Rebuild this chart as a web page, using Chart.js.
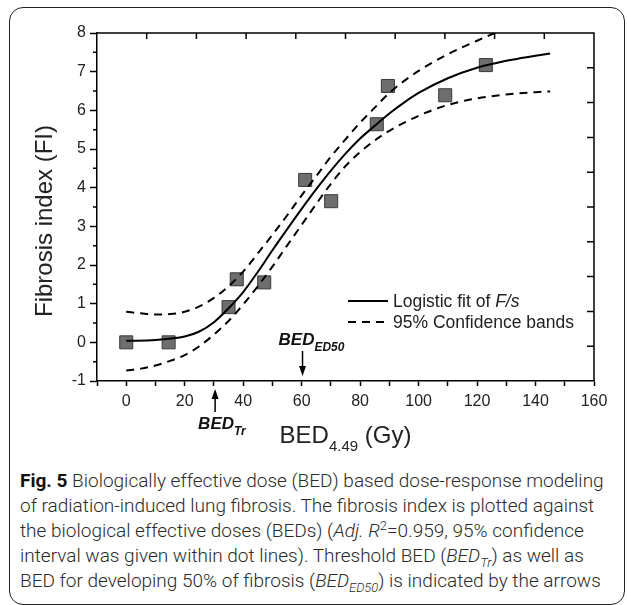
<!DOCTYPE html>
<html>
<head>
<meta charset="utf-8">
<title>BED dose-response</title>
<script src="https://cdn.jsdelivr.net/npm/chart.js@4.4.1/dist/chart.umd.min.js"></script>
<style>
  html, body { margin: 0; padding: 0; background: #fff; overflow: hidden; }
  #wrap { position: relative; width: 627px; height: 605px; }
  #frame { position: absolute; left: 9px; top: 7px; width: 614px; height: 596px; border: 1.5px solid #222; border-radius: 14px; }
  #chart { position: absolute; left: 0; top: 0; width: 627px; height: 460px; }
  #caption { position: absolute; left: 20px; top: 468px; font-family: Roboto, "Liberation Sans", sans-serif; font-weight: 300; font-size: 19px; line-height: 25px; color: #2a2a2a; white-space: nowrap; transform-origin: 0 0; }
  #caption .ln { display: inline-block; }
  #caption b { font-weight: 700; color: #111; }
  #caption sub, #caption sup { font-size: 68%; line-height: 0; }
</style>
</head>
<body>
<div id="wrap">
  <div id="frame"></div>
  <canvas id="chart" width="627" height="460"></canvas>
  <div id="caption">
    <span class="ln"><b>Fig. 5</b> Biologically effective dose (BED) based dose-response modeling</span><br>
    <span class="ln">of radiation-induced lung fibrosis. The fibrosis index is plotted against</span><br>
    <span class="ln">the biological effective doses (BEDs) (<i>Adj. R</i><sup>2</sup>=0.959, 95% confidence</span><br>
    <span class="ln">interval was given within dot lines). Threshold BED (<i>BED<sub>Tr</sub></i>) as well as</span><br>
    <span class="ln">BED for developing 50% of fibrosis (<i>BED<sub>ED50</sub></i>) is indicated by the arrows</span>
  </div>
</div>
<script>
// measured points
const bedGy = [0, 14.5, 35.0, 37.8, 47.2, 61.2, 70.1, 85.7, 89.5, 109.1, 123];
const fibrosisIndex = [0, 0, 0.91, 1.63, 1.55, 4.20, 3.65, 5.64, 6.63, 6.39, 7.17];

// logistic fit
const fitBed = [0, 10, 20, 25, 30, 35, 40, 45, 50, 55, 60, 65, 70, 75, 80, 85, 90, 95, 100, 110, 120, 130, 140, 145];
const fitFI = [0.04, 0.06, 0.15, 0.28, 0.52, 0.88, 1.30, 1.82, 2.38, 2.92, 3.45, 3.96, 4.44, 4.88, 5.27, 5.60, 5.92, 6.20, 6.45, 6.83, 7.10, 7.28, 7.41, 7.47];

// 95% confidence bands
const upperBed = [0, 5, 10, 15, 20, 25, 30, 35, 40, 45, 50, 55, 60, 65, 70, 75, 80, 85, 90, 100, 110, 120, 126];
const upperFI = [0.79, 0.75, 0.72, 0.73, 0.79, 0.93, 1.15, 1.45, 1.83, 2.30, 2.78, 3.28, 3.80, 4.30, 4.80, 5.25, 5.68, 6.07, 6.45, 7.02, 7.45, 7.80, 8.0];
const lowerBed = [0, 5, 10, 15, 20, 25, 30, 35, 40, 45, 50, 55, 60, 65, 70, 75, 80, 85, 90, 100, 110, 120, 130, 140, 145];
const lowerFI = [-0.73, -0.68, -0.60, -0.48, -0.33, -0.10, 0.20, 0.55, 0.98, 1.45, 1.96, 2.50, 3.04, 3.58, 4.10, 4.56, 4.92, 5.22, 5.47, 5.86, 6.14, 6.31, 6.41, 6.47, 6.49];

// axes
const xTickLabels = [0, 20, 40, 60, 80, 100, 120, 140, 160];
const yTickLabels = [-1, 0, 1, 2, 3, 4, 5, 6, 7, 8];

// arrows: BED_Tr and BED_ED50
const arrowBed = [30.4, 60.3];

const FONT = '"Liberation Sans", Arial, sans-serif';

function pairs(xs, ys) {
  return xs.map((x, i) => ({ x: x, y: ys[i] }));
}

// frame, inward mirror ticks, minor ticks, titles, legend and arrows
const decorPlugin = {
  id: 'decor',
  afterDraw(chart) {
    const ctx = chart.ctx;
    const a = chart.chartArea;
    const xs = chart.scales.x;
    const ys = chart.scales.y;
    ctx.save();
    ctx.strokeStyle = '#000';
    ctx.fillStyle = '#222';
    ctx.lineWidth = 1.5;

    // top + right border
    ctx.beginPath();
    ctx.moveTo(a.left, a.top);
    ctx.lineTo(a.right, a.top);
    ctx.lineTo(a.right, a.bottom);
    ctx.stroke();

    // mirror ticks pointing inward, 10 divisions each
    ctx.beginPath();
    for (let i = 1; i < 10; i++) {
      const px = a.left + i * (a.right - a.left) / 10;
      ctx.moveTo(px, a.top);
      ctx.lineTo(px, a.top + 6);
      const py = a.top + i * (a.bottom - a.top) / 10;
      ctx.moveTo(a.right, py);
      ctx.lineTo(a.right - 7, py);
    }
    ctx.stroke();

    // y minor ticks
    ctx.beginPath();
    for (let i = 0; i < yTickLabels.length - 1; i++) {
      const py = ys.getPixelForValue(yTickLabels[i] + 0.5);
      ctx.moveTo(a.left, py);
      ctx.lineTo(a.left - 4, py);
    }
    ctx.stroke();

    // y title
    ctx.save();
    ctx.translate(a.left - 52, (a.top + a.bottom) / 2 + 14);
    ctx.rotate(-Math.PI / 2);
    ctx.font = '24px ' + FONT;
    ctx.textAlign = 'center';
    ctx.textBaseline = 'middle';
    ctx.fillText('Fibrosis index (FI)', 0, 0);
    ctx.restore();

    // x title with subscript
    ctx.textBaseline = 'alphabetic';
    ctx.textAlign = 'left';
    const big = '24px ' + FONT, small = '15px ' + FONT;
    ctx.font = big;
    const w1 = ctx.measureText('BED').width;
    const w3 = ctx.measureText(' (Gy)').width;
    ctx.font = small;
    const w2 = ctx.measureText('4.49').width;
    let tx = (a.left + a.right) / 2 - (w1 + w2 + w3) / 2;
    const ty = a.bottom + 62;
    ctx.font = big;
    ctx.fillText('BED', tx, ty);
    ctx.font = small;
    ctx.fillText('4.49', tx + w1, ty + 8);
    ctx.font = big;
    ctx.fillText(' (Gy)', tx + w1 + w2, ty);

    // legend
    const lx = a.left + 251;
    const ly1 = a.bottom - 80, ly2 = a.bottom - 59;
    ctx.lineWidth = 2;
    ctx.beginPath();
    ctx.moveTo(lx, ly1);
    ctx.lineTo(lx + 40, ly1);
    ctx.stroke();
    ctx.setLineDash([8, 6]);
    ctx.beginPath();
    ctx.moveTo(lx, ly2);
    ctx.lineTo(lx + 40, ly2);
    ctx.stroke();
    ctx.setLineDash([]);
    ctx.font = '17.5px ' + FONT;
    ctx.fillText('Logistic fit of ', lx + 45, ly1 + 6);
    const wl = ctx.measureText('Logistic fit of ').width;
    ctx.font = 'italic 17.5px ' + FONT;
    ctx.fillText('F/s', lx + 45 + wl, ly1 + 6);
    ctx.font = '17.5px ' + FONT;
    ctx.fillText('95% Confidence bands', lx + 45, ly2 + 6);

    // arrows
    ctx.fillStyle = '#000';
    ctx.lineWidth = 1.5;
    const ax1 = xs.getPixelForValue(arrowBed[0]);
    drawArrow(ctx, ax1, a.bottom + 31, a.bottom + 8);
    const ax2 = xs.getPixelForValue(arrowBed[1]);
    drawArrow(ctx, ax2, a.bottom - 30, a.bottom - 5);

    ctx.fillStyle = '#111';
    const lb = 'bold italic 17px ' + FONT, ls = 'bold italic 12px ' + FONT;
    ctx.font = lb;
    const wb = ctx.measureText('BED').width;
    ctx.fillText('BED', ax1 - 17, a.bottom + 48);
    ctx.font = ls;
    ctx.fillText('Tr', ax1 - 17 + wb, a.bottom + 54);
    ctx.font = lb;
    ctx.fillText('BED', ax2 - 24, a.bottom - 36);
    ctx.font = ls;
    ctx.fillText('ED50', ax2 - 24 + wb, a.bottom - 30);

    ctx.restore();
  }
};

function drawArrow(ctx, x, yFrom, yTo) {
  const dir = yTo > yFrom ? 1 : -1;
  ctx.beginPath();
  ctx.moveTo(x, yFrom);
  ctx.lineTo(x, yTo - dir * 8);
  ctx.stroke();
  ctx.beginPath();
  ctx.moveTo(x, yTo);
  ctx.lineTo(x - 3.5, yTo - dir * 10);
  ctx.lineTo(x + 3.5, yTo - dir * 10);
  ctx.closePath();
  ctx.fill();
}

const lineStyle = {
  type: 'line',
  showLine: true,
  fill: false,
  borderColor: '#000',
  borderWidth: 2,
  pointRadius: 0,
  cubicInterpolationMode: 'monotone',
  order: 0
};

new Chart(document.getElementById('chart'), {
  type: 'scatter',
  data: {
    datasets: [
      Object.assign({ label: 'Logistic fit of F/s', data: pairs(fitBed, fitFI) }, lineStyle),
      Object.assign({ label: '95% Confidence bands', data: pairs(upperBed, upperFI), borderDash: [8, 6] }, lineStyle),
      Object.assign({ label: '95% lower', data: pairs(lowerBed, lowerFI), borderDash: [8, 6] }, lineStyle),
      {
        label: 'FI',
        data: pairs(bedGy, fibrosisIndex),
        pointStyle: 'rect',
        pointRadius: 9.2,
        pointHoverRadius: 9.2,
        backgroundColor: '#6e6e6e',
        borderColor: '#3a3a3a',
        borderWidth: 1,
        order: 1
      }
    ]
  },
  options: {
    responsive: false,
    animation: false,
    layout: { padding: { left: 0, top: 33, right: 33, bottom: 0 } },
    plugins: { legend: { display: false }, tooltip: { enabled: false } },
    scales: {
      x: {
        type: 'linear',
        min: -10,
        max: 160,
        afterFit: s => { s.height = 79; },
        ticks: {
          stepSize: 10,
          padding: 6,
          autoSkip: false,
          maxRotation: 0,
          minRotation: 0,
          color: '#222',
          font: { family: FONT, size: 16 },
          callback: v => xTickLabels.includes(v) ? String(v) : ''
        },
        grid: { drawOnChartArea: false, drawTicks: true, tickLength: 5, tickColor: '#000', tickWidth: 1.5 },
        border: { display: true, color: '#000', width: 1.5 }
      },
      y: {
        type: 'linear',
        min: -1,
        max: 8,
        afterFit: s => { s.width = 97; },
        ticks: {
          stepSize: 1,
          padding: 4,
          color: '#222',
          font: { family: FONT, size: 16 },
          callback: v => yTickLabels.includes(v) ? String(v) : ''
        },
        grid: { drawOnChartArea: false, drawTicks: true, tickLength: 7, tickColor: '#000', tickWidth: 1.5 },
        border: { display: true, color: '#000', width: 1.5 }
      }
    }
  },
  plugins: [decorPlugin]
});

// squeeze the caption so the first line spans the same width as the figure text
function fitCaption() {
  const cap = document.getElementById('caption');
  const first = cap.querySelector('.ln');
  const w = first.getBoundingClientRect().width;
  if (w > 0) cap.style.transform = 'scaleX(' + (589 / w) + ')';
}
fitCaption();
if (document.fonts && document.fonts.ready) document.fonts.ready.then(fitCaption);
</script>
</body>
</html>
